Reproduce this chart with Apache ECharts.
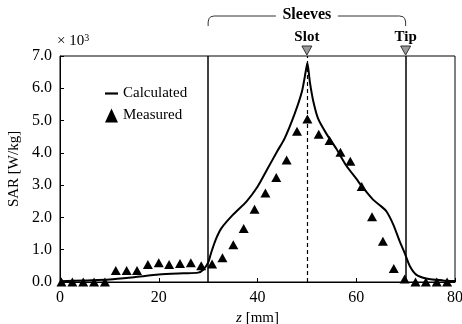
<!DOCTYPE html>
<html>
<head>
<meta charset="utf-8">
<script src="https://cdn.jsdelivr.net/npm/echarts@6/dist/echarts.min.js"></script>
<style>
  html, body { margin: 0; padding: 0; background: #fff; }
  #chart { width: 462px; height: 324px; }
</style>
</head>
<body>
<div id="chart"></div>
<script>
// z [mm], SAR [x10^3 W/kg]
const calculated = [
  [0, 0.02], [5, 0.05], [10, 0.08], [15, 0.15], [20, 0.23], [25, 0.27], [28, 0.29],
  [29, 0.38], [30, 0.6], [30.6, 0.9], [31.5, 1.3], [32.7, 1.67], [35, 2.08], [37.8, 2.5],
  [40, 2.95], [42, 3.5], [44, 4.05], [45.5, 4.45], [47.5, 5.2], [49, 5.9], [49.8, 6.55],
  [50.1, 6.78], [50.6, 6.2], [51.3, 5.6], [52.3, 5.05], [54, 4.58], [56, 4.12], [58, 3.6],
  [60, 3.2], [61.1, 2.97], [63.4, 2.55], [65, 2.35], [66.1, 2.19], [67.5, 1.78],
  [68.8, 1.26], [69.8, 0.9], [70.9, 0.48], [72.2, 0.22], [74.2, 0.11], [77.5, 0.05], [80, 0.03]
];
const measuredZ = [0.3, 2.5, 4.7, 6.9, 9.1, 11.3, 13.5, 15.6, 17.8, 20.0, 22.1, 24.3, 26.5,
  28.6, 30.8, 32.9, 35.1, 37.2, 39.4, 41.6, 43.8, 45.9, 48.0, 50.1, 52.4, 54.6, 56.8, 58.8,
  61.1, 63.2, 65.4, 67.6, 69.8, 72.0, 74.1, 76.3, 78.4];
const measuredSar = [0, 0, 0, 0, 0, 0.36, 0.36, 0.36, 0.54, 0.6, 0.54, 0.57, 0.6,
  0.5, 0.56, 0.75, 1.15, 1.66, 2.25, 2.76, 3.24, 3.78, 4.67, 5.05, 4.58, 4.38, 4.02, 3.74,
  2.96, 2.02, 1.26, 0.42, 0.09, 0, 0, 0, 0];
const sleeveStart = 30, slotZ = 50, tipZ = 70;

const font = "'Liberation Serif', 'DejaVu Serif', serif";
const chart = echarts.init(document.getElementById("chart"), null, { renderer: "canvas" });

chart.setOption({
  animation: false,
  textStyle: { fontFamily: font },
  grid: {
    left: 60, right: 7, top: 56, bottom: 42,
    outerBoundsMode: "none",
    show: true, borderColor: "#000", borderWidth: 1
  },
  legend: {
    orient: "vertical",
    left: 100,
    top: 81,
    itemGap: 7,
    itemWidth: 13,
    itemHeight: 14,
    textStyle: { fontFamily: font, fontSize: 15, color: "#000" },
    data: [
      { name: "Calculated", icon: "path://M0,6 L12,6 L12,8 L0,8 Z", itemStyle: { color: "#000" } },
      { name: "Measured", icon: "triangle", itemStyle: { color: "#000", opacity: 1 } }
    ]
  },
  xAxis: {
    type: "value",
    min: 0, max: 80, interval: 20,
    name: "{i|z} [mm]",
    nameLocation: "middle",
    nameGap: 22,
    nameTextStyle: {
      fontFamily: font, fontSize: 15, color: "#000",
      rich: { i: { fontFamily: font, fontStyle: "italic", fontSize: 15, color: "#000" } }
    },
    axisLine: { lineStyle: { color: "#000" } },
    axisTick: { inside: true, length: 4, lineStyle: { color: "#000" } },
    axisLabel: { fontFamily: font, fontSize: 16, color: "#000", margin: 8 },
    splitLine: { show: false }
  },
  yAxis: {
    type: "value",
    min: 0, max: 7, interval: 1,
    name: "SAR [W/kg]",
    nameLocation: "middle",
    nameRotate: 90,
    nameGap: 38,
    nameTextStyle: { fontFamily: font, fontSize: 15, color: "#000" },
    axisLine: { lineStyle: { color: "#000" } },
    axisTick: { inside: true, length: 4, lineStyle: { color: "#000" } },
    axisLabel: { fontFamily: font, fontSize: 16, color: "#000", margin: 8, formatter: v => v.toFixed(1) },
    splitLine: { show: false }
  },
  series: [
    {
      name: "Calculated",
      type: "line",
      data: calculated,
      symbol: "none",
      smooth: 0.25,
      lineStyle: { color: "#000", width: 2 },
      itemStyle: { color: "#000" },
      markLine: {
        symbol: "none",
        silent: true,
        label: { show: false },
        data: [
          { xAxis: sleeveStart, lineStyle: { color: "#000", width: 1.5, type: "solid" } },
          { xAxis: tipZ, lineStyle: { color: "#000", width: 1.5, type: "solid" } },
          { xAxis: slotZ, lineStyle: { color: "#000", width: 1.2, type: [4, 3] } }
        ]
      },
      z: 3
    },
    {
      name: "Measured",
      type: "scatter",
      data: measuredZ.map((z, i) => [z, measuredSar[i]]),
      symbol: "triangle",
      symbolSize: [10, 9],
      itemStyle: { color: "#000", opacity: 1 },
      z: 4
    }
  ]
});

// annotations above the plot
const px = z => chart.convertToPixel({ xAxisIndex: 0 }, z);
const x30 = px(sleeveStart), x50 = px(slotZ), x70 = px(tipZ);
const topY = 56;
const marker = x => ({
  type: "polygon",
  shape: { points: [[x - 5, topY - 10], [x + 5, topY - 10], [x, topY - 1]] },
  style: { fill: "#9a9a9a", stroke: "#333", lineWidth: 1 },
  z: 10
});
const bracketStyle = { fill: null, stroke: "#333", lineWidth: 1 };
chart.setOption({
  graphic: [
    {
      type: "text", left: 57, top: 33,
      style: {
        text: "× 10{s|3}", fontFamily: font, fontSize: 15, fill: "#000",
        rich: { s: { fontFamily: font, fontSize: 10, fill: "#000", verticalAlign: "top", padding: [0, 0, 6, 0] } }
      }
    },
    {
      type: "polyline",
      shape: { points: [[x30, 26], [x30, 22], [x30 + 0.8, 18.8], [x30 + 2.5, 16.8], [x30 + 6, 16], [x50 - 31, 16]] },
      style: bracketStyle
    },
    {
      type: "polyline",
      shape: { points: [[x50 + 31, 16], [x70 - 6, 16], [x70 - 2.5, 16.8], [x70 - 0.8, 18.8], [x70, 22], [x70, 26]] },
      style: bracketStyle
    },
    {
      type: "text", x: x50, y: 15,
      style: { text: "Sleeves", fontFamily: font, fontSize: 16, fontWeight: "bold", fill: "#000", align: "center", verticalAlign: "middle" }
    },
    {
      type: "text", x: x50, y: 37,
      style: { text: "Slot", fontFamily: font, fontSize: 15, fontWeight: "bold", fill: "#000", align: "center", verticalAlign: "middle" }
    },
    {
      type: "text", x: x70, y: 37,
      style: { text: "Tip", fontFamily: font, fontSize: 15, fontWeight: "bold", fill: "#000", align: "center", verticalAlign: "middle" }
    },
    marker(x50),
    marker(x70)
  ]
});
</script>
</body>
</html>
